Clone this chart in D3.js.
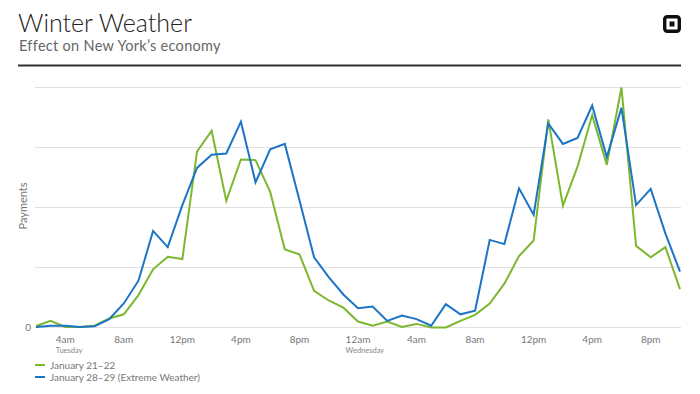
<!DOCTYPE html>
<html>
<head>
<meta charset="utf-8">
<script src="https://cdn.jsdelivr.net/npm/d3@7"></script>
<style>
  body { margin: 0; background: white; }
  text { font-family: Lato, "Open Sans", sans-serif; }
</style>
</head>
<body>
<script>
// Hours since Tuesday 12am, one point per hour
const hours = [2, 3, 4, 5, 6, 7, 8, 9, 10, 11, 12, 13, 14, 15, 16, 17, 18, 19, 20, 21, 22, 23,
               24, 25, 26, 27, 28, 29, 30, 31, 32, 33, 34, 35, 36, 37, 38, 39, 40, 41, 42, 43, 44, 45, 46];

const normalWeek = [2.5, 11, 1, 1, 3, 15, 22, 54, 97, 118, 114, 293, 328, 211, 280, 279, 226, 130, 122, 61, 45, 33,
                    10, 3, 10, 1, 6, 0, 0, 11, 21, 40, 73, 119, 145, 347, 203, 268, 354, 271, 400, 136, 117, 134, 64];

const extremeWeek = [1, 3, 3, 1, 2, 14, 40, 78, 161, 134, 204, 266, 288, 290, 343, 242, 297, 306, 212, 117, 84, 55,
                     32, 35, 11, 20, 14, 3, 39, 22, 28, 146, 139, 232, 188, 340, 306, 316, 370, 284, 366, 204, 231, 157, 93];

const tickHours = [4, 8, 12, 16, 20, 24, 28, 32, 36, 40, 44];
const tickLabels = ["4am", "8am", "12pm", "4pm", "8pm", "12am", "4am", "8am", "12pm", "4pm", "8pm"];
const dayLabels = {4: "Tuesday", 24: "Wednesday"};

const gridValues = [0, 100, 200, 300, 400];

const seriesNames = ["January 21\u201322", "January 28\u201329 (Extreme Weather)"];
const seriesColors = ["#7cb82f", "#1b74c5"];

const outerWidth = 700, outerHeight = 394;

const svg = d3.select("body").append("svg")
    .attr("width", outerWidth)
    .attr("height", outerHeight);

// Header
svg.append("text")
    .text("Winter Weather")
    .attr("x", 18).attr("y", 32)
    .style("font-size", "25px")
    .style("font-weight", 300)
    .style("fill", "#222");

svg.append("text")
    .text("Effect on New York\u2019s economy")
    .attr("x", 19).attr("y", 51)
    .style("font-size", "14.5px")
    .style("letter-spacing", "0.3px")
    .style("fill", "#666");

svg.append("line")
    .attr("x1", 18).attr("x2", 681)
    .attr("y1", 65.5).attr("y2", 65.5)
    .attr("stroke", "#333")
    .attr("stroke-width", 1.8);

// Logo
const logo = svg.append("g").attr("transform", "translate(663, 15)");
logo.append("rect")
    .attr("x", 1.7).attr("y", 1.7)
    .attr("width", 14.6).attr("height", 14.6)
    .attr("rx", 2.5)
    .attr("fill", "none")
    .attr("stroke", "#111")
    .attr("stroke-width", 3.4);
logo.append("rect")
    .attr("x", 6.5).attr("y", 6.5)
    .attr("width", 5).attr("height", 5)
    .attr("fill", "#111");

// Scales
const xScale = d3.scaleLinear().domain([2, 46]).range([36, 680]);
const yScale = d3.scaleLinear().domain([0, 400]).range([327.5, 87.5]);

// Gridlines
svg.selectAll(".grid")
    .data(gridValues)
    .join("line")
    .attr("class", "grid")
    .attr("x1", 35).attr("x2", 681)
    .attr("y1", d => yScale(d)).attr("y2", d => yScale(d))
    .attr("stroke", "#e0e0e0")
    .attr("stroke-width", 1);

svg.append("text")
    .text("0")
    .attr("x", 31).attr("y", yScale(0))
    .attr("dy", "0.32em")
    .style("text-anchor", "end")
    .style("font-size", "10px")
    .style("fill", "#777");

svg.append("text")
    .text("Payments")
    .style("text-anchor", "middle")
    .attr("transform", "translate(27, 206) rotate(-90)")
    .style("font-size", "11px")
    .style("fill", "#777");

// X axis labels
const ticks = svg.selectAll(".tick")
    .data(tickHours)
    .join("g")
    .attr("class", "tick")
    .attr("transform", d => `translate(${xScale(d)}, 0)`);

ticks.append("text")
    .text((d, i) => tickLabels[i])
    .attr("y", 343)
    .style("text-anchor", "middle")
    .style("font-size", "10px")
    .style("fill", "#777");

ticks.filter(d => dayLabels[d])
    .each(function(d) {
        const g = d3.select(this);
        const w = g.select("text").node().getComputedTextLength();
        g.append("text")
            .text(dayLabels[d])
            .attr("x", -w / 2)
            .attr("y", 353)
            .style("font-size", "7.5px")
            .style("fill", "#888");
    });

// Lines
const line = d3.line()
    .x((d, i) => xScale(hours[i]))
    .y(d => yScale(d));

[normalWeek, extremeWeek].forEach((series, i) => {
    svg.append("path")
        .datum(series)
        .attr("fill", "none")
        .attr("stroke", seriesColors[i])
        .attr("stroke-width", 2)
        .attr("stroke-linejoin", "miter")
        .attr("d", line);
});

// Legend
const legend = svg.selectAll(".legend")
    .data(seriesNames)
    .join("g")
    .attr("class", "legend")
    .attr("transform", (d, i) => `translate(35, ${365 + i * 12})`);

legend.append("line")
    .attr("x1", 0).attr("x2", 10)
    .attr("stroke", (d, i) => seriesColors[i])
    .attr("stroke-width", 2);

legend.append("text")
    .text(d => d)
    .attr("x", 15)
    .attr("dy", "0.35em")
    .style("font-size", "10px")
    .style("fill", "#777");
</script>
</body>
</html>
